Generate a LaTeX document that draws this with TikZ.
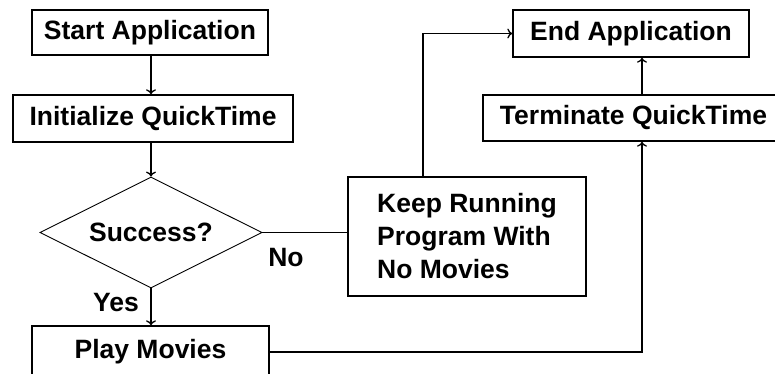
\documentclass[tikz,border=0pt]{standalone}
\usepackage{fontspec}
\setmainfont{Liberation Sans}
\usetikzlibrary{shapes.geometric,arrows.meta}
\begin{document}
\begin{tikzpicture}[x=1pt,y=-1pt,
  every node/.style={font=\bfseries\fontsize{26.5}{33}\selectfont},
  box/.style={draw,line width=1.4pt,rectangle,inner sep=0pt},
  dec/.style={draw,line width=0.9pt,diamond,aspect=2,inner sep=0pt,minimum width=222pt,minimum height=111pt},
  conn/.style={line width=1.3pt},
  arr/.style={conn,-{To[length=5pt,width=10pt]}},
  lbl/.style={inner sep=0pt}]
\useasboundingbox (0,0) rectangle (775,373);
\clip (0,0) rectangle (775,373);
\node[box,minimum width=236pt,minimum height=45pt] (start) at (150,32.5) {Start Application};
\node[box,minimum width=280pt,minimum height=47pt] (init) at (153,118.5) {Initialize QuickTime};
\node[dec] (dia) at (151,232.5) {Success?};
\node[box,minimum width=237pt,minimum height=52pt] (play) at (150.5,352) {Play Movies};
\node[box,minimum width=238pt,minimum height=119pt,align=left] (keep) at (467,236.5) {Keep Running\\Program With\\No Movies};
\node[box,minimum width=236pt,minimum height=47pt] (end) at (631,33.5) {End Application};
\node[box,minimum width=310pt,minimum height=46pt] (term) at (638,118) {\hspace*{-9pt}Terminate QuickTime};
\node[lbl] (yes) at (116,303) {Yes};
\node[lbl] (no) at (286,258) {No};
\coordinate (tx) at (642,0);
\coordinate (kx) at (423,0);
\draw[arr] (start.south -| dia.north) -- (init.north -| dia.north);
\draw[arr] (init.south -| dia.north) -- (dia.north);
\draw[arr] (dia.south) -- (dia.south |- play.north);
\draw[conn] (dia.east) -- (dia.east -| keep.west);
\draw[arr] (keep.north -| kx) |- (end.west);
\draw[arr] (term.north -| tx) -- (end.south -| tx);
\draw[arr] (play.east) -| (term.south -| tx);
\end{tikzpicture}
\end{document}
